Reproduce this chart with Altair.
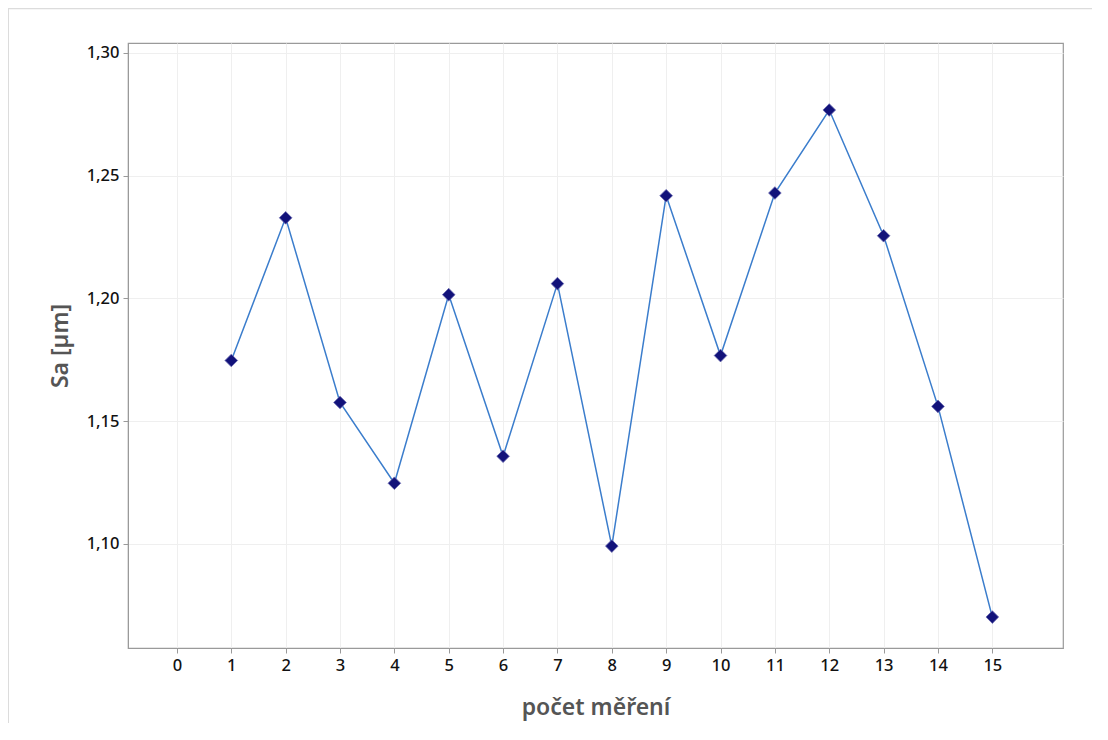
import altair as alt
import pandas as pd

measurements = list(range(1, 16))
sa_values = [1.1747, 1.2328, 1.1576, 1.1247, 1.2015, 1.1357, 1.2060, 1.0991,
             1.2418, 1.1767, 1.2429, 1.2767, 1.2255, 1.1560, 1.0702]
x_ticks = list(range(0, 16))
y_ticks = [1.10, 1.15, 1.20, 1.25, 1.30]

df = pd.DataFrame({"n": measurements, "sa": sa_values})

FONT = "Noto Sans"

x = alt.X("n:Q", title="počet měření",
          scale=alt.Scale(domain=[-0.9, 16.3], nice=False, zero=False),
          axis=alt.Axis(values=x_ticks, format="d", labelFlush=False))
y = alt.Y("sa:Q", title="Sa [µm]",
          scale=alt.Scale(domain=[1.0576, 1.304], nice=False, zero=False),
          axis=alt.Axis(values=y_ticks,
                        labelExpr="replace(format(datum.value, '.2f'), '.', ',')"))

base = alt.Chart(df)
line = base.mark_line(color="#3b7dcc", strokeWidth=1.5).encode(x=x, y=y)
pts = base.mark_point(shape="diamond", filled=True, color="#12127a",
                      size=160, opacity=1, stroke="#6a6ab0", strokeWidth=0.8).encode(x=x, y=y)

border_top = alt.Chart(pd.DataFrame({"a": [0]})).mark_rule(
    color="#dcdcdc", strokeWidth=1.5).encode(
    x=alt.value(-120), x2=alt.value(1000), y=alt.value(-34.5))
border_left = alt.Chart(pd.DataFrame({"a": [0]})).mark_rule(
    color="#dcdcdc", strokeWidth=2).encode(
    x=alt.value(-120), y=alt.value(-35), y2=alt.value(720))

chart = alt.layer(border_top, border_left, line, pts).properties(
    width=935, height=605,
    autosize=alt.AutoSizeParams(type="none"),
    padding={"left": 120, "top": 35, "right": 29, "bottom": 75},
).configure_view(
    stroke="#9a9a9a", strokeWidth=1.2
).configure_axis(
    labelFont=FONT, titleFont=FONT,
    labelFontSize=16.5, labelColor="#111111", labelFontWeight=500,
    titleFontSize=23, titleColor="#555555", titleFontWeight=600,
    gridColor="#efefef", gridWidth=1,
    domainColor="#9a9a9a", tickColor="#9a9a9a", tickSize=5,
    labelPadding=4,
).configure_axisX(
    titlePadding=23,
).configure_axisY(
    titlePadding=14,
)

chart.save("out.html", embed_options={"renderer": "svg", "actions": False})
